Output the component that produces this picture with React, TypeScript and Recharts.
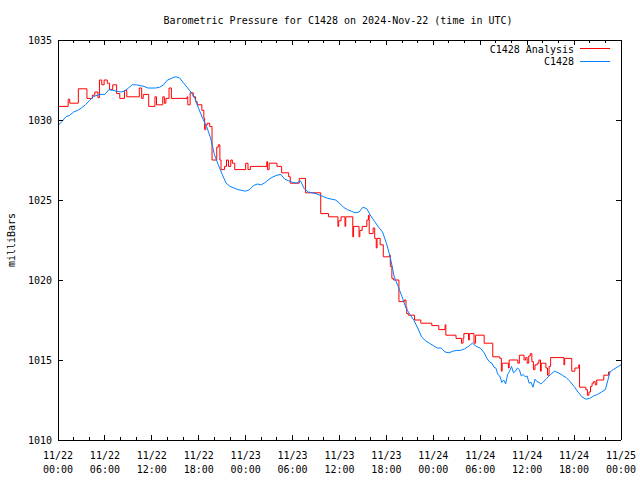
import React from "react";
import { LineChart, Line, XAxis, YAxis } from "recharts";

// ---- data (hours since 2024-11-22 00:00 UTC, millibars) ----
const analysisTimes = [
  0, 1.3, 1.5, 2.6, 3.7, 4.4, 4.7, 5.1, 5.3, 5.6, 5.9, 6.3, 6.6, 7.0, 7.5, 7.9, 8.5, 8.8, 10.4, 10.7,
  10.9, 11.6, 12.4, 12.6, 13.4, 13.6, 13.8, 14.2, 14.5, 16.5, 16.6, 16.9, 17.3, 17.6, 17.8, 18.4, 18.65, 18.75,
  18.9, 19.1, 19.4, 19.7, 20.3, 20.5, 20.7, 20.85, 21.3, 21.55, 21.8, 22.1, 22.3, 22.6, 24.0, 24.3, 24.6,
  26.7, 26.8, 27.0, 28.0, 28.6, 29.5, 29.7, 30.85, 31.65, 33.6, 34.6, 35.8, 35.9, 36.2, 36.7, 36.8, 37.7,
  37.8, 38.5, 38.6, 38.9, 39.5, 39.7, 39.8, 40.3, 40.5, 40.7, 40.8, 41.2, 41.6, 42.4, 42.5, 42.7, 42.9,
  43.6, 44.3, 44.5, 44.6, 44.8, 45.6, 46.4, 47.8, 48.7, 49.5, 49.6, 50.9, 51.6, 51.8, 51.9, 52.5, 52.6,
  53.2, 53.4, 54.5, 55.6, 56.5, 56.7, 56.8, 57.6, 57.7, 58.8, 59.0, 59.6, 59.8, 60.0, 60.2, 60.4, 60.6,
  60.8, 61.0, 61.3, 61.5, 61.7, 61.8, 62.4, 62.6, 62.8, 63.0, 64.7, 64.8, 65.7, 66.1, 66.6, 66.7, 67.5,
  67.7, 67.9, 68.1, 68.3, 68.5, 68.7, 68.9, 69.8, 70.4, 70.6,
];
const analysisValues = [
  1030.85, 1031.3, 1031.05, 1031.95, 1031.35, 1031.55, 1031.75, 1031.4, 1032.5, 1032.2, 1032.5, 1032.3, 1031.9, 1032.2, 1031.65, 1031.35, 1031.85, 1031.45, 1032.0, 1031.35,
  1031.6, 1030.85, 1031.45, 1030.95, 1031.45, 1031.05, 1031.35, 1032.0, 1031.35, 1031.45, 1030.95, 1031.7, 1031.45, 1031.15, 1030.95, 1030.6, 1030.1, 1029.4,
  1029.7, 1029.8, 1029.6, 1027.5, 1028.3, 1028.45, 1027.5, 1026.9, 1027.1, 1027.5, 1027.1, 1027.5, 1027.3, 1026.9, 1027.3, 1026.9, 1027.1,
  1027.4, 1026.9, 1027.3, 1027.1, 1026.7, 1026.45, 1026.05, 1026.35, 1025.45, 1024.15, 1023.95, 1023.35, 1023.7, 1023.95, 1023.35, 1023.95, 1022.7,
  1023.35, 1022.7, 1023.1, 1023.35, 1023.75, 1024.05, 1022.9, 1023.25, 1022.6, 1022.0, 1022.6, 1022.2, 1021.45, 1021.55, 1020.85, 1020.1, 1020.0,
  1018.65, 1018.75, 1018.3, 1017.9, 1017.8, 1017.5, 1017.3, 1017.15, 1016.9, 1017.2, 1016.55, 1016.35, 1016.05, 1016.35, 1016.65, 1016.25, 1016.65,
  1016.05, 1016.55, 1016.05, 1015.2, 1015.1, 1014.3, 1014.8, 1014.5, 1015.0, 1014.8, 1015.3, 1015.0, 1015.15, 1014.8, 1015.25, 1015.4, 1014.9,
  1014.4, 1014.7, 1014.8, 1015.0, 1014.3, 1014.8, 1014.5, 1014.05, 1014.6, 1015.15, 1014.7, 1015.1, 1014.3, 1014.5, 1014.7, 1013.3, 1013.15,
  1012.8, 1013.0, 1013.35, 1013.55, 1013.65, 1013.45, 1013.75, 1014.05, 1014.25, 1014.25,
];

const stationTimes = [
  0, 0.5, 1, 1.5, 2, 2.5, 3, 3.5, 4, 4.5, 5, 5.5, 6, 6.5, 7, 7.5, 8, 8.5, 9, 9.5, 10, 10.5, 11, 11.5, 12,
  12.5, 13, 13.5, 14, 14.5, 15, 15.5, 16, 16.5, 17, 17.5, 18, 18.5, 19, 19.5, 20, 20.5, 21, 21.5, 22, 22.5,
  23, 23.5, 24, 24.5, 25, 25.5, 26, 26.5, 27, 27.5, 28, 28.5, 29, 29.5, 30, 30.5, 31, 31.5, 32, 32.5, 33,
  33.5, 34, 34.5, 35, 35.5, 36, 36.5, 37, 37.5, 38, 38.5, 39, 39.5, 40, 40.5, 41, 41.5, 42, 42.5, 43, 43.5,
  44, 44.5, 45, 45.5, 46, 46.5, 47, 47.5, 48, 48.5, 49, 49.5, 50, 50.5, 51, 51.5, 52, 52.5, 53, 53.5, 54,
  54.5, 54.75, 55, 55.25, 55.5, 55.75, 56, 56.25, 56.5, 56.75, 57, 57.25, 57.5, 57.75, 58, 58.25, 58.5,
  58.75, 59, 59.25, 59.5, 59.75, 60, 60.25, 60.5, 60.75, 61, 61.25, 61.5, 61.75, 62, 62.5, 63, 63.5, 64,
  64.5, 65, 65.5, 66, 66.5, 67, 67.5, 68, 68.5, 69, 69.5, 70, 70.3, 70.6, 71, 71.5, 72,
];
const stationValues = [
  1029.65, 1029.9, 1030.2, 1030.3, 1030.5, 1030.6, 1030.75, 1030.95, 1031.2, 1031.45, 1031.55, 1031.6, 1031.6, 1031.9, 1031.85, 1031.8, 1031.75, 1031.8, 1032.0, 1032.2, 1032.2, 1032.15, 1032.1, 1032.0, 1032.0,
  1032.0, 1032.05, 1032.2, 1032.5, 1032.6, 1032.7, 1032.65, 1032.35, 1032.05, 1031.75, 1031.35, 1030.7, 1030.1, 1029.6, 1028.9, 1027.85, 1027.2, 1026.6, 1026.05, 1025.85, 1025.75,
  1025.65, 1025.6, 1025.55, 1025.65, 1025.9, 1026.0, 1025.95, 1026.1, 1026.3, 1026.45, 1026.55, 1026.6, 1026.3, 1026.2, 1026.1, 1026.05, 1026.2, 1025.7, 1025.5, 1025.45, 1025.4,
  1025.3, 1025.2, 1025.1, 1025.05, 1025.0, 1024.8, 1024.55, 1024.4, 1024.3, 1024.2, 1024.25, 1024.55, 1024.45, 1024.0, 1023.65, 1023.3, 1023.0, 1022.3, 1021.4, 1020.2, 1019.6,
  1018.95, 1018.25, 1017.85, 1017.5, 1017.0, 1016.45, 1016.2, 1016.05, 1015.9, 1015.75, 1015.75, 1015.5, 1015.45, 1015.55, 1015.6, 1015.6, 1015.7, 1015.85, 1016.05, 1015.85, 1015.75,
  1015.45, 1015.2, 1015.0, 1014.85, 1014.8, 1014.55, 1014.5, 1014.1, 1014.0, 1013.6, 1013.75, 1013.5, 1014.1, 1014.3, 1014.6, 1014.2, 1014.3,
  1014.5, 1014.4, 1014.0, 1014.1, 1013.95, 1014.0, 1013.55, 1013.6, 1013.3, 1013.8, 1013.65, 1013.6, 1013.5, 1013.6, 1013.85, 1014.1, 1014.3, 1014.2,
  1014.05, 1013.9, 1013.65, 1013.35, 1013.0, 1012.7, 1012.55, 1012.6, 1012.75, 1012.85, 1013.0, 1013.15, 1013.7, 1014.25, 1014.4, 1014.55, 1014.7,
];

const xTicks = [0, 2, 4, 6, 8, 10, 12, 14, 16, 18, 20, 22, 24, 26, 28, 30, 32, 34, 36, 38, 40, 42, 44, 46, 48, 50, 52, 54, 56, 58, 60, 62, 64, 66, 68, 70, 72];
const majorHours = [0, 6, 12, 18, 24, 30, 36, 42, 48, 54, 60, 66, 72];
const majorDates = ["11/22", "11/22", "11/22", "11/22", "11/23", "11/23", "11/23", "11/23", "11/24", "11/24", "11/24", "11/24", "11/25"];
const majorTimes = ["00:00", "06:00", "12:00", "18:00", "00:00", "06:00", "12:00", "18:00", "00:00", "06:00", "12:00", "18:00", "00:00"];
const yTicks = [1010, 1015, 1020, 1025, 1030, 1035];

const analysisData = analysisTimes.map((t, i) => ({ t, v: analysisValues[i] }));
const stationData = stationTimes.map((t, i) => ({ t, v: stationValues[i] }));

const FONT = "'DejaVu Sans Mono', 'Liberation Mono', monospace";
const RED = "#ff0000";
const BLUE = "#0080ff";

const BottomTick = (props: any) => {
  const { x, y, payload } = props;
  const idx = majorHours.indexOf(payload.value);
  const major = idx >= 0;
  return (
    <g>
      <line x1={x} y1={y} x2={x} y2={y - (major ? 5 : 3)} stroke="#000" shapeRendering="crispEdges" />
      {major && (
        <text x={x} y={y + 19} textAnchor="middle" fontFamily={FONT} fontSize={10} fill="#000">
          <tspan x={x}>{majorDates[idx]}</tspan>
          <tspan x={x} dy={14}>{majorTimes[idx]}</tspan>
        </text>
      )}
    </g>
  );
};

const TopTick = (props: any) => {
  const { x, y, payload } = props;
  const major = majorHours.indexOf(payload.value) >= 0;
  return <line x1={x} y1={y} x2={x} y2={y + (major ? 5 : 3)} stroke="#000" shapeRendering="crispEdges" />;
};

const LeftTick = (props: any) => {
  const { x, y, payload } = props;
  return (
    <g>
      <line x1={x} y1={y} x2={x + 5} y2={y} stroke="#000" shapeRendering="crispEdges" />
      <text x={x - 6} y={y + 4} textAnchor="end" fontFamily={FONT} fontSize={10} fill="#000">
        {payload.value}
      </text>
    </g>
  );
};

const RightTick = (props: any) => {
  const { x, y } = props;
  return <line x1={x} y1={y} x2={x - 5} y2={y} stroke="#000" shapeRendering="crispEdges" />;
};

export default function App() {
  return (
    <div style={{ position: "relative", width: 640, height: 480, background: "#fff" }}>
      <style>{"body{margin:0;}"}</style>
      <LineChart width={640} height={480} margin={{ top: 39, right: 18, bottom: 0, left: 0 }}>
        <XAxis
          xAxisId="bottom"
          type="number"
          dataKey="t"
          domain={[0, 72]}
          ticks={xTicks}
          interval={0}
          allowDataOverflow
          height={40}
          tickSize={0}
          tickMargin={0}
          tickLine={false}
          axisLine={{ stroke: "#000", shapeRendering: "crispEdges" }}
          tick={<BottomTick />}
        />
        <XAxis
          xAxisId="top"
          orientation="top"
          type="number"
          dataKey="t"
          domain={[0, 72]}
          ticks={xTicks}
          interval={0}
          allowDataOverflow
          height={1}
          tickSize={0}
          tickMargin={0}
          tickLine={false}
          axisLine={{ stroke: "#000", shapeRendering: "crispEdges" }}
          tick={<TopTick />}
        />
        <YAxis
          yAxisId="left"
          type="number"
          domain={[1010, 1035]}
          ticks={yTicks}
          interval={0}
          allowDataOverflow
          width={58}
          tickSize={0}
          tickMargin={0}
          tickLine={false}
          axisLine={{ stroke: "#000", shapeRendering: "crispEdges" }}
          tick={<LeftTick />}
        />
        <YAxis
          yAxisId="right"
          orientation="right"
          type="number"
          domain={[1010, 1035]}
          ticks={yTicks}
          interval={0}
          allowDataOverflow
          width={1}
          tickSize={0}
          tickMargin={0}
          tickLine={false}
          axisLine={{ stroke: "#000", shapeRendering: "crispEdges" }}
          tick={<RightTick />}
        />
        <Line
          data={analysisData}
          dataKey="v"
          xAxisId="bottom"
          yAxisId="left"
          type="stepAfter"
          stroke={RED}
          strokeWidth={1}
          dot={false}
          isAnimationActive={false}
        />
        <Line
          data={stationData}
          dataKey="v"
          xAxisId="top"
          yAxisId="right"
          type="linear"
          stroke={BLUE}
          strokeWidth={1}
          dot={false}
          isAnimationActive={false}
        />
      </LineChart>
      <svg width={640} height={480} style={{ position: "absolute", left: 0, top: 0, pointerEvents: "none" }}>
        <text x={338} y={24} textAnchor="middle" fontFamily={FONT} fontSize={10} fill="#000">
          Barometric Pressure for C1428 on 2024-Nov-22 (time in UTC)
        </text>
        <text
          x={0}
          y={0}
          transform="translate(15,240) rotate(-90)"
          textAnchor="middle"
          fontFamily={FONT}
          fontSize={10}
          fill="#000"
        >
          milliBars
        </text>
        <text x={574} y={53} textAnchor="end" fontFamily={FONT} fontSize={10} fill="#000">
          C1428 Analysis
        </text>
        <line x1={580} y1={48.5} x2={610} y2={48.5} stroke={RED} />
        <text x={574} y={65} textAnchor="end" fontFamily={FONT} fontSize={10} fill="#000">
          C1428
        </text>
        <line x1={580} y1={61.5} x2={610} y2={61.5} stroke={BLUE} />
      </svg>
    </div>
  );
}
